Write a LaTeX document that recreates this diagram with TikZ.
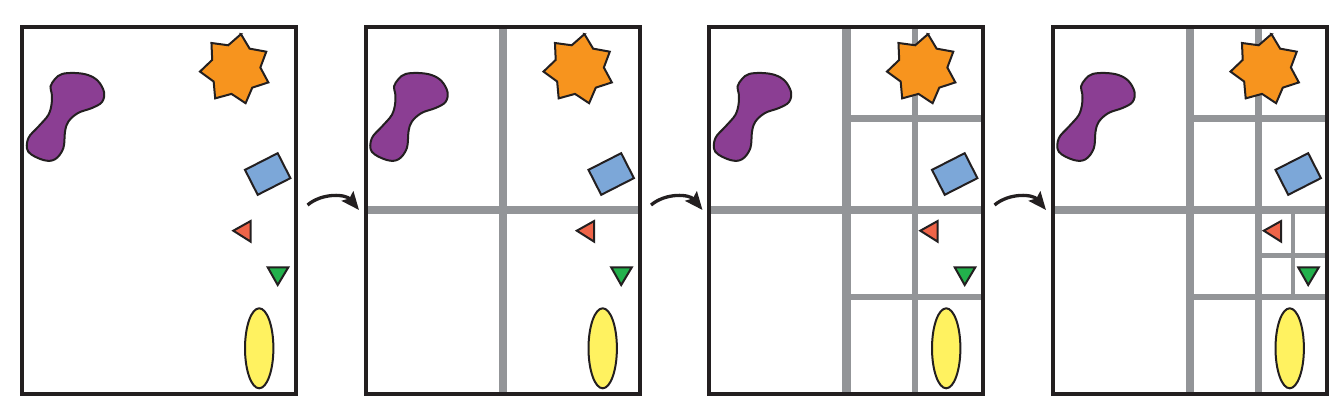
\documentclass[tikz,border=0pt]{standalone}
\usepackage{tikz}
\usetikzlibrary{arrows.meta}
\definecolor{framegray}{RGB}{35,31,32}
\definecolor{cutgray}{RGB}{147,149,152}
\definecolor{blobpurple}{RGB}{139,62,147}
\definecolor{starorange}{RGB}{247,148,30}
\definecolor{rectblue}{RGB}{124,167,216}
\definecolor{trired}{RGB}{239,100,72}
\definecolor{trigreen}{RGB}{34,177,76}
\definecolor{ellyellow}{RGB}{255,242,96}
\begin{document}
\begin{tikzpicture}[x=1pt,y=-1pt,
  frame/.style={draw=framegray,line width=4pt},
  shp/.style={draw=framegray,line width=2pt,line join=miter},
  divline/.style={draw=cutgray,line width=#1},
  arr/.style={-{Stealth[length=18pt,width=15pt,inset=3pt]},line width=3.3pt,draw=framegray}]
\useasboundingbox (0,0) rectangle (1340,404);
% split lines, coarse to fine
\begin{scope}[shift={(365.5,27)}]
\draw[divline=8.5pt] (137.5,0)--(137.5,367) (0,183.2)--(274,183.2);
\end{scope}
\begin{scope}[shift={(709,27)}]
\draw[divline=8.5pt] (137.5,0)--(137.5,367) (0,183.2)--(274,183.2);
\draw[divline=6.5pt] (206,0)--(206,367) (137.5,91.3)--(274,91.3) (137.5,270)--(274,270);
\end{scope}
\begin{scope}[shift={(1052.5,27)}]
\draw[divline=8.5pt] (137.5,0)--(137.5,367) (0,183.2)--(274,183.2);
\draw[divline=6.5pt] (206,0)--(206,367) (137.5,91.3)--(274,91.3) (137.5,270)--(274,270);
\draw[divline=4.7pt] (240.6,183.2)--(240.6,270) (206,228.8)--(274,228.8);
\end{scope}
% frames and the same six shapes in every panel
\foreach \px in {22,365.5,709,1052.5}{
\begin{scope}[shift={(\px,27)}]
\draw[frame] (0,0) rectangle (274,367);
\draw[shp,fill=blobpurple] plot[smooth cycle,tension=0.6] coordinates {(40,47) (53,46) (66,48) (76,54) (82,65) (80,75) (70,81) (56,86) (46.3,94.7) (43,104.7) (41.3,121.3) (33,132.3) (21.3,133) (6.3,124.7) (6.3,111.3) (16.3,99.7) (26.3,88) (29.7,76.3) (29.7,66.3) (28.5,59.5) (33,52)};
\draw[shp,fill=starorange] (213.4,42.2) +(-81:35.5) \foreach \k in {0,...,6}{ -- +({-81+51.43*\k+25.71}:25) -- +({-81+51.43*(\k+1)}:35.5)} -- cycle;
\draw[shp,fill=rectblue,shift={(245.7,147)},rotate=27] (-18.35,-14) rectangle (18.35,14);
\draw[shp,fill=trired] (211.3,203.7)--(228.7,194)--(228.7,214.7)--cycle;
\draw[shp,fill=trigreen] (245.7,240.3)--(266.3,240.3)--(255.7,258)--cycle;
\draw[shp,fill=ellyellow] (237.2,321.3) ellipse [x radius=14.2,y radius=40];
\end{scope}}
% arrows between panels
\coordinate (t1) at (307.5,205);\coordinate (h1) at (359,210);
\coordinate (t2) at (651,205);\coordinate (h2) at (702.5,210);
\coordinate (t3) at (994.5,205);\coordinate (h3) at (1046,210);
\draw[arr] (t1) to[bend left=45] (h1);\draw[arr] (t2) to[bend left=45] (h2);\draw[arr] (t3) to[bend left=45] (h3);
\end{tikzpicture}
\end{document}
